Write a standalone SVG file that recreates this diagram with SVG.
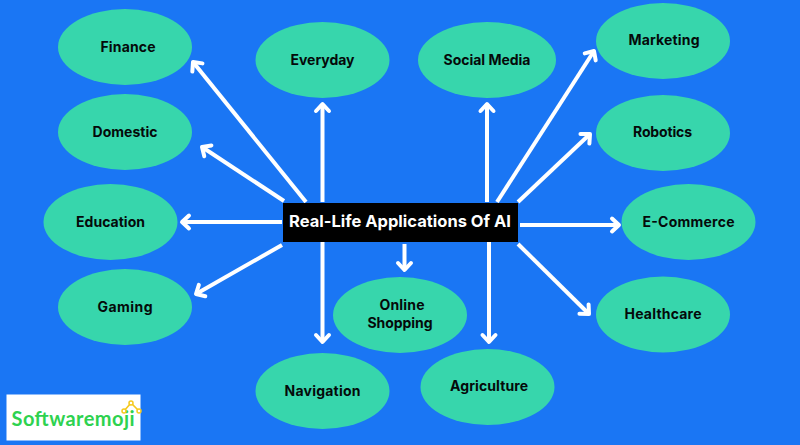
<svg xmlns="http://www.w3.org/2000/svg" width="800" height="445" viewBox="0 0 800 445">
<style>
.n{fill:#37d6ac}
.t{font-family:Inter,"Open Sans","Liberation Sans",sans-serif;font-weight:700;font-size:14px;fill:#050a0a;text-anchor:middle}
.c line{stroke:#fff;stroke-width:4;marker-end:url(#a)}
</style>
<defs><marker id="a" markerUnits="userSpaceOnUse" markerWidth="20" markerHeight="20" refX="13" refY="10" orient="auto" overflow="visible"><path d="M6 3.5L13 10L6 16.5" fill="none" stroke="#fff" stroke-width="4" stroke-linecap="round" stroke-linejoin="round"/></marker></defs>
<rect width="800" height="445" fill="#1a76f4"/>
<g id="connectors" class="c">
<line x1="306" y1="202" x2="193" y2="62"/>
<line x1="284" y1="201" x2="202" y2="147"/>
<line x1="282" y1="222" x2="182" y2="222"/>
<line x1="282" y1="245" x2="196" y2="294"/>
<line x1="322.500" y1="202" x2="322.500" y2="104"/>
<line x1="322.500" y1="242" x2="322.500" y2="342"/>
<line x1="404.500" y1="244" x2="404.500" y2="270"/>
<line x1="487" y1="202" x2="487" y2="104"/>
<line x1="489" y1="242" x2="489" y2="342"/>
<line x1="497" y1="202" x2="594" y2="51"/>
<line x1="518" y1="202" x2="590" y2="134"/>
<line x1="520" y1="225" x2="619" y2="225"/>
<line x1="518" y1="244" x2="589" y2="314"/>
</g>
<g id="finance"><ellipse class="n" cx="125" cy="47" rx="67" ry="38"/><text class="t" x="128" y="52" textLength="55">Finance</text></g>
<g id="domestic"><ellipse class="n" cx="125" cy="132" rx="67" ry="38"/><text class="t" x="125" y="137" textLength="65">Domestic</text></g>
<g id="education"><ellipse class="n" cx="110.500" cy="222" rx="67" ry="38"/><text class="t" x="110.500" y="227" textLength="69">Education</text></g>
<g id="gaming"><ellipse class="n" cx="125" cy="307" rx="67" ry="38"/><text class="t" x="125" y="312" textLength="55">Gaming</text></g>
<g id="everyday"><ellipse class="n" cx="322.500" cy="60" rx="67" ry="38"/><text class="t" x="322.500" y="65" textLength="64">Everyday</text></g>
<g id="navigation"><ellipse class="n" cx="322.500" cy="391" rx="67" ry="38"/><text class="t" x="322.500" y="396" textLength="76">Navigation</text></g>
<g id="online-shopping"><ellipse class="n" cx="400" cy="315" rx="67" ry="38"/><text class="t" x="402" y="310" textLength="45">Online</text><text class="t" x="400" y="328" textLength="65">Shopping</text></g>
<g id="social-media"><ellipse class="n" cx="487" cy="60" rx="69" ry="38"/><text class="t" x="487" y="65" textLength="87">Social Media</text></g>
<g id="agriculture"><ellipse class="n" cx="487.500" cy="387" rx="67" ry="38"/><text class="t" x="489" y="391" textLength="78">Agriculture</text></g>
<g id="marketing"><ellipse class="n" cx="663" cy="41" rx="67" ry="38"/><text class="t" x="664" y="45" textLength="71">Marketing</text></g>
<g id="robotics"><ellipse class="n" cx="663" cy="133" rx="67" ry="38"/><text class="t" x="662.500" y="137" textLength="59">Robotics</text></g>
<g id="e-commerce"><ellipse class="n" cx="688.500" cy="222" rx="67" ry="38"/><text class="t" x="688.500" y="227" textLength="92">E-Commerce</text></g>
<g id="healthcare"><ellipse class="n" cx="663" cy="314.500" rx="67" ry="38"/><text class="t" x="663" y="319" textLength="77">Healthcare</text></g>
<g id="center"><rect x="283" y="203" width="235" height="39" fill="#000"/><text x="400" y="227" font-family="Inter,'Liberation Sans',sans-serif" font-weight="700" font-size="16.500" fill="#fff" text-anchor="middle" textLength="222">Real-Life Applications Of AI</text></g>
<g id="logo"><rect x="6.500" y="394.500" width="134" height="46" fill="#fff"/><text x="73" y="426" font-family="Lato,'Open Sans',sans-serif" font-weight="700" font-size="20" fill="#2ed24f" text-anchor="middle" textLength="123">Softwaremoji</text><path d="M124 411L131 403L139 411" fill="none" stroke="#f5c91e" stroke-width="1.600"/><circle cx="124" cy="411" r="2" fill="#fff" stroke="#f5c91e" stroke-width="1.500"/><circle cx="131" cy="403" r="2" fill="#fff" stroke="#f5c91e" stroke-width="1.500"/><circle cx="139" cy="411" r="2" fill="#fff" stroke="#f5c91e" stroke-width="1.500"/></g>
</svg>
